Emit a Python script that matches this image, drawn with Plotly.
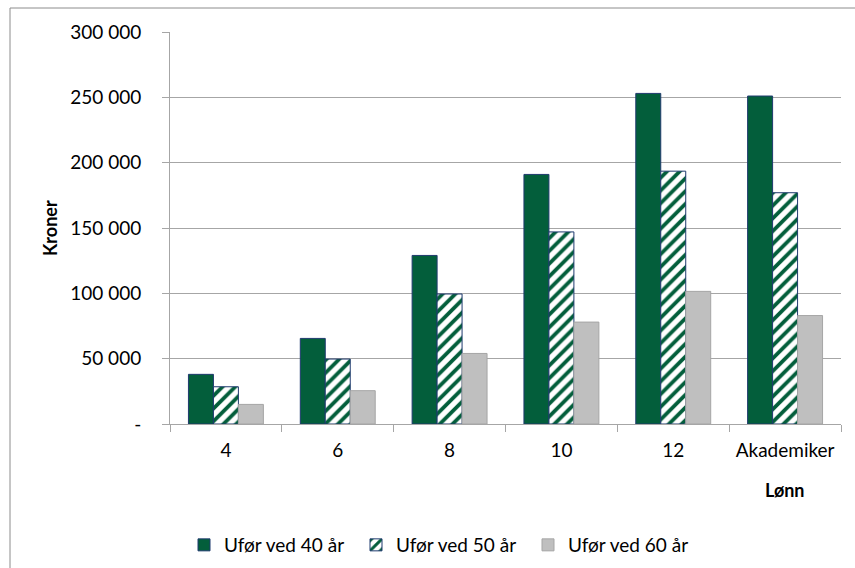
import plotly.graph_objects as go

# Salary level categories (x axis)
categories = ["4", "6", "8", "10", "12", "Akademiker"]

# Loss in kroner by age at disability
ufor_40 = [38000, 65500, 129000, 191000, 253000, 251000]
ufor_50 = [28500, 49700, 99500, 147000, 193500, 177000]
ufor_60 = [15000, 25500, 54000, 78000, 101500, 83000]

series_names = ["Ufør ved 40 år", "Ufør ved 50 år", "Ufør ved 60 år"]

y_tick_vals = [0, 50000, 100000, 150000, 200000, 250000, 300000]
y_tick_text = ["-", "50 000", "100 000", "150 000", "200 000", "250 000", "300 000"]

FONT = "Lato"
FS = 19
GREEN = "#035E3B"
NAVY = "#1F3A6E"
GRID = "#A6A6A6"

fig = go.Figure()

fig.add_trace(go.Bar(
    x=categories, y=ufor_40, name=series_names[0],
    marker=dict(color=GREEN, line=dict(color=NAVY, width=1)),
))
fig.add_trace(go.Bar(
    x=categories, y=ufor_50, name=series_names[1],
    marker=dict(
        color="white",
        line=dict(color=NAVY, width=1),
        pattern=dict(shape="/", fgcolor=GREEN, bgcolor="white",
                     size=9, solidity=0.42, fillmode="replace"),
    ),
))
fig.add_trace(go.Bar(
    x=categories, y=ufor_60, name=series_names[2],
    marker=dict(color="#BFBFBF", line=dict(color="#A5A5A5", width=1)),
))

W, H = 855, 568
L, R, T, B = 170, 14, 32, 144
pw, ph = W - L - R, H - T - B

fig.update_layout(
    width=W, height=H,
    margin=dict(l=L, r=R, t=T, b=B, pad=0, autoexpand=False),
    paper_bgcolor="white", plot_bgcolor="white",
    font=dict(family=FONT, size=FS, color="#000000"),
    barmode="group", bargap=0.33, bargroupgap=0.0,
    showlegend=True,
    legend=dict(
        orientation="h", x=(184 - L) / pw, xanchor="left",
        y=-(545 - (T + ph)) / ph, yanchor="middle",
        font=dict(family=FONT, size=FS), itemwidth=30,
        bgcolor="rgba(0,0,0,0)", traceorder="normal",
        entrywidth=127, entrywidthmode="pixels",
    ),
    xaxis=dict(
        type="category", showgrid=False, automargin=False,
        showline=True, linecolor=GRID, linewidth=1,
        ticks="outside", tickson="boundaries", ticklen=7,
        tickcolor=GRID, tickwidth=1,
        ticklabelstandoff=9,
        tickfont=dict(family=FONT, size=FS),
    ),
    yaxis=dict(
        range=[0, 300000], tickvals=y_tick_vals, ticktext=y_tick_text,
        showgrid=True, gridcolor=GRID, gridwidth=1, automargin=False,
        showline=True, linecolor=GRID, linewidth=1,
        ticks="outside", ticklen=7, tickcolor=GRID, tickwidth=1,
        ticklabelstandoff=17,
        tickfont=dict(family=FONT, size=FS),
        zeroline=False,
    ),
    annotations=[
        dict(text="<b>Kroner</b>", textangle=-90, xref="paper", yref="paper",
             x=(50 - L) / pw, y=1 - (228 - T) / ph, showarrow=False,
             xanchor="center", yanchor="middle",
             font=dict(family=FONT, size=18)),
        dict(text="<b>Lønn</b>", xref="paper", yref="paper",
             x=(785 - L) / pw, y=-(490 - (T + ph)) / ph, showarrow=False,
             xanchor="center", yanchor="middle",
             font=dict(family=FONT, size=18)),
    ],
    shapes=[
        dict(type="rect", xref="paper", yref="paper",
             x0=(10 - L) / pw, x1=(870 - L) / pw,
             y0=-(580 - (T + ph)) / ph, y1=1 + (T - 8) / ph,
             line=dict(color="#8C8C8C", width=1), fillcolor="rgba(0,0,0,0)",
             layer="below"),
    ],
)

fig.write_html("out.html")
